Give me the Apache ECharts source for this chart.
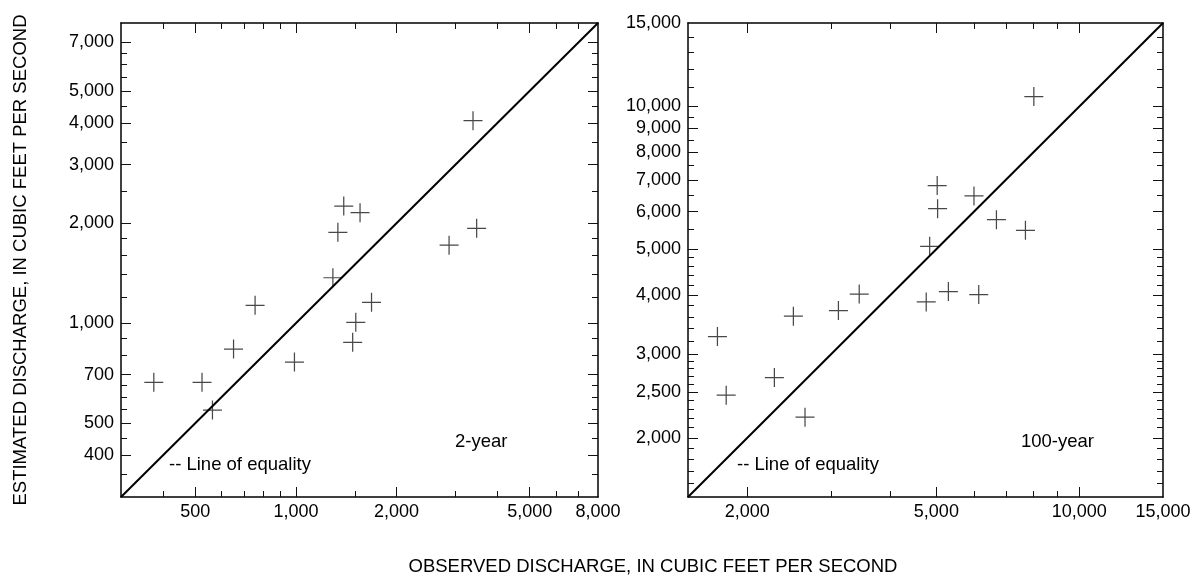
<!DOCTYPE html>
<html><head><meta charset="utf-8">
<script src="https://cdn.jsdelivr.net/npm/echarts@6/dist/echarts.min.js"></script>
<style>html,body{margin:0;padding:0;background:#fff}#c{width:1194px;height:577px}</style>
</head><body><div id="c"></div>
<script>
// ---- data ----
const leftObserved  = [376, 524, 563, 651, 755, 990, 1290, 1510, 1478, 1683, 1390, 1555, 1335, 2870, 3470, 3384];
const leftEstimated = [664, 664, 548, 836, 1132, 764, 1370, 1006, 876, 1156, 2250, 2150, 1877, 1716, 1930, 4066];
const rightObserved  = [1730, 1805, 2280, 2500, 2645, 3110, 3440, 4760, 5300, 6140, 4840, 5020, 5030, 6000, 6690, 7700, 8020];
const rightEstimated = [3270, 2460, 2680, 3610, 2210, 3710, 4020, 3870, 4070, 4010, 5070, 6810, 6085, 6475, 5770, 5480, 10490];

const leftRange = [300, 8000];
const rightRange = [1500, 15000];
const leftXLabels = [500, 1000, 2000, 5000, 8000];
const leftXMinor = [400, 600, 700, 800, 900, 1500, 3000, 4000, 6000, 7000];
const leftYLabels = [400, 500, 700, 1000, 2000, 3000, 4000, 5000, 7000];
const leftYMinor = [350, 450, 550, 600, 650, 800, 900, 1200, 1400, 1600, 1800, 2500, 3500, 4500, 5500, 6000, 6500];
const rightXLabels = [2000, 5000, 10000, 15000];
const rightXMinor = [3000, 4000, 6000, 7000, 8000, 9000];
const rightYLabels = [2000, 2500, 3000, 4000, 5000, 6000, 7000, 8000, 9000, 10000, 15000];
const rightYMinor = [1600, 1700, 1800, 1900, 2100, 2200, 2300, 2400, 2600, 2700, 2800, 2900, 3200, 3400, 3600, 3800, 4200, 4400, 4600, 4800, 5500, 6500, 7500, 8500, 9500, 11000, 12000, 13000, 14000];

const leftPanelLabel = '2-year';
const rightPanelLabel = '100-year';
const equalityLabel = '-- Line of equality';
const xTitle = 'OBSERVED DISCHARGE, IN CUBIC FEET PER SECOND';
const yTitle = 'ESTIMATED DISCHARGE, IN CUBIC FEET PER SECOND';

// ---- chart ----
const FONT = '"Liberation Sans", Arial, Helvetica, sans-serif';
function fmt(v) { return String(Math.round(v)).replace(/\B(?=(\d{3})+(?!\d))/g, ','); }

function axesFor(dim, gridIndex, range, labels, minor) {
  const posA = dim === 'x' ? 'bottom' : 'left';
  const posB = dim === 'x' ? 'top' : 'right';
  const base = { type: 'log', logBase: 10, gridIndex: gridIndex, min: range[0], max: range[1],
    splitLine: { show: false }, minorTick: { show: false }, axisPointer: { show: false } };
  const major = labels.filter(v => v > range[0] && v < range[1]);
  const lineOn = { show: true, lineStyle: { color: '#000', width: 1.5 } };
  const tickStyle = { color: '#111', width: 1 };
  return [
    Object.assign({}, base, { position: posA, axisLine: lineOn,
      axisTick: { show: true, inside: true, length: 10, customValues: major, lineStyle: tickStyle },
      axisLabel: { show: true, customValues: labels, formatter: fmt, color: '#000', fontSize: 18,
        fontFamily: FONT, margin: dim === 'x' ? 6 : 7, hideOverlap: false } }),
    Object.assign({}, base, { position: posB, axisLine: lineOn,
      axisTick: { show: true, inside: true, length: 10, customValues: major, lineStyle: tickStyle },
      axisLabel: { show: false } }),
    Object.assign({}, base, { position: posA, axisLine: { show: false },
      axisTick: { show: true, inside: true, length: 6, customValues: minor, lineStyle: tickStyle },
      axisLabel: { show: false } }),
    Object.assign({}, base, { position: posB, axisLine: { show: false },
      axisTick: { show: true, inside: true, length: 6, customValues: minor, lineStyle: tickStyle },
      axisLabel: { show: false } })
  ];
}

const plus = 'path://M9.35,0H10.65V20H9.35Z M0,9.35H20V10.65H0Z';
const TFONT = '18.5px ' + FONT;

const chart = echarts.init(document.getElementById('c'), null, { renderer: 'canvas' });
chart.setOption({
  animation: false,
  backgroundColor: '#fff',
  grid: [
    { left: 121, top: 23, width: 477, height: 474, outerBoundsMode: 'none', containLabel: false },
    { left: 688, top: 23, width: 475, height: 474, outerBoundsMode: 'none', containLabel: false }
  ],
  xAxis: [].concat(axesFor('x', 0, leftRange, leftXLabels, leftXMinor), axesFor('x', 1, rightRange, rightXLabels, rightXMinor)),
  yAxis: [].concat(axesFor('y', 0, leftRange, leftYLabels, leftYMinor), axesFor('y', 1, rightRange, rightYLabels, rightYMinor)),
  series: [
    { type: 'line', xAxisIndex: 0, yAxisIndex: 0, data: [[leftRange[0], leftRange[0]], [leftRange[1], leftRange[1]]],
      symbol: 'none', lineStyle: { color: '#000', width: 2 }, silent: true },
    { type: 'scatter', xAxisIndex: 0, yAxisIndex: 0, data: leftObserved.map((x, i) => [x, leftEstimated[i]]),
      symbol: plus, symbolSize: 19, itemStyle: { color: '#1a1a1a' }, silent: true },
    { type: 'line', xAxisIndex: 4, yAxisIndex: 4, data: [[rightRange[0], rightRange[0]], [rightRange[1], rightRange[1]]],
      symbol: 'none', lineStyle: { color: '#000', width: 2 }, silent: true },
    { type: 'scatter', xAxisIndex: 4, yAxisIndex: 4, data: rightObserved.map((x, i) => [x, rightEstimated[i]]),
      symbol: plus, symbolSize: 19, itemStyle: { color: '#1a1a1a' }, silent: true }
  ],
  graphic: [
    { type: 'text', x: 169, y: 465, style: { text: equalityLabel, font: TFONT, fill: '#000', align: 'left', verticalAlign: 'middle' } },
    { type: 'text', x: 455, y: 442, style: { text: leftPanelLabel, font: TFONT, fill: '#000', align: 'left', verticalAlign: 'middle' } },
    { type: 'text', x: 737, y: 465, style: { text: equalityLabel, font: TFONT, fill: '#000', align: 'left', verticalAlign: 'middle' } },
    { type: 'text', x: 1021, y: 442, style: { text: rightPanelLabel, font: TFONT, fill: '#000', align: 'left', verticalAlign: 'middle' } },
    { type: 'text', x: 653, y: 567, style: { text: xTitle, font: TFONT, fill: '#000', align: 'center', verticalAlign: 'middle' } },
    { type: 'text', x: 21, y: 260, rotation: Math.PI / 2, style: { text: yTitle, font: TFONT, fill: '#000', align: 'center', verticalAlign: 'middle' } }
  ]
});
</script>
</body></html>
